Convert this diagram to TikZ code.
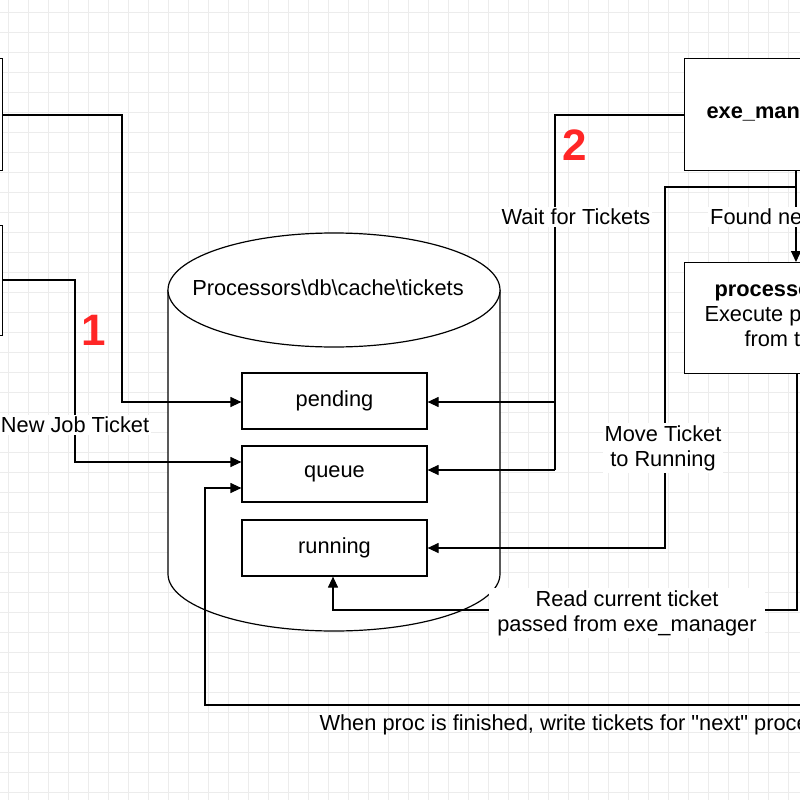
\documentclass[tikz,border=0pt]{standalone}
\usepackage{fontspec}
\setmainfont{Liberation Sans}
\usetikzlibrary{arrows.meta}
\begin{document}
\begin{tikzpicture}[x=1pt,y=-1pt,
  fs/.style={font=\fontsize{21.8}{25}\selectfont},
  box/.style={draw,line width=1.2pt,fill=white,minimum width=185pt,minimum height=56pt,fs},
  big/.style={draw,line width=1.2pt,fill=white,anchor=north west,inner sep=0pt},
  arr/.style={line width=1.2pt,-{Triangle[length=11pt,width=10pt]}},
  ln/.style={line width=1.2pt},
  lbl/.style={fill=white,fs,align=center,inner sep=2pt},
  num/.style={text=red!85!white,font=\fontsize{44}{44}\bfseries\selectfont}]
\useasboundingbox (0,0) rectangle (800,800);
\clip (0,0) rectangle (800,800);
\fill[white] (0,0) rectangle (800,800);
\foreach \i in {0,20,...,800}{
  \draw[gray!15,line width=0.6pt] (\i+8,0) -- (\i+8,800);
  \draw[gray!15,line width=0.6pt] (0,\i+12) -- (800,\i+12);}
% left boxes
\node[big,minimum width=30pt,minimum height=112pt] (l1) at (-28,58) {};
\node[big,minimum width=30pt,minimum height=110pt] (l2) at (-28,225) {};
% cylinder
\draw[ln,fill=white] (168,290) -- (168,574) arc[start angle=180,end angle=0,x radius=166,y radius=57] -- (500,290);
\draw[ln,fill=white] (334,290) ellipse[x radius=166,y radius=57];
\node[fs] (cyl) at (328,288) {Processors\textbackslash db\textbackslash cache\textbackslash tickets};
\node[box] (pend) at (334.5,401) {pending};
\node[box] (queue) at (334.5,474) {queue};
\node[box] (run) at (334.5,548) {running};
% right boxes
\node[big,minimum width=140pt,minimum height=112pt] (exe) at (684,58) {};
\node[anchor=west,font=\fontsize{21.8}{25}\bfseries\selectfont] (exet) at (703,115) {exe\_manager};
\node[big,minimum width=140pt,minimum height=111pt] (proc) at (684,262) {};
\node[anchor=north west,align=left,fs] (proct) at (701,281) {\textbf{\hspace{10pt}processor}\\Execute processor\\\hspace{40pt}from ticket};
% connectors
\draw[arr] (l1.east |- 0,115) -- (122,115) -- (122,402) -- (pend.west |- 0,402);
\draw[arr] (l2.east |- 0,280) -- (75,280) -- (75,462) -- (queue.west |- 0,462);
\node[lbl] (njt) at (75,425) {New Job Ticket};
\node[num] (n1) at (94,330) {1};
\draw[ln] (exe.west |- 0,115) -- (555,115) -- (555,470);
\draw[arr] (555,402) -- (pend.east |- 0,402);
\draw[arr] (555,470) -- (queue.east |- 0,470);
\node[lbl] (wft) at (576,217) {Wait for Tickets};
\node[num] (n2) at (575,145) {2};
\draw[arr] (796,170) -- (796,262);
\node[lbl,anchor=west] (fnt) at (708,217) {Found new ticket};
\draw[arr] (796,187) -- (665,187) -- (665,548) -- (run.east |- 0,548);
\node[lbl] (mtr) at (663,448) {Move Ticket\\to Running};
\draw[arr] (797,373) -- (797,610) -- (333,610) -- (run.south -| 333,0);
\node[lbl,inner xsep=8pt] (rct) at (627,613) {Read current ticket\\passed from exe\_manager};
\draw[arr] (820,705) -- (205,705) -- (205,488) -- (queue.west |- 0,488);
\node[anchor=west,fs] (wpf) at (316,725) {When proc is finished, write tickets for \textquotedbl next\textquotedbl{} process};
\end{tikzpicture}
\end{document}
